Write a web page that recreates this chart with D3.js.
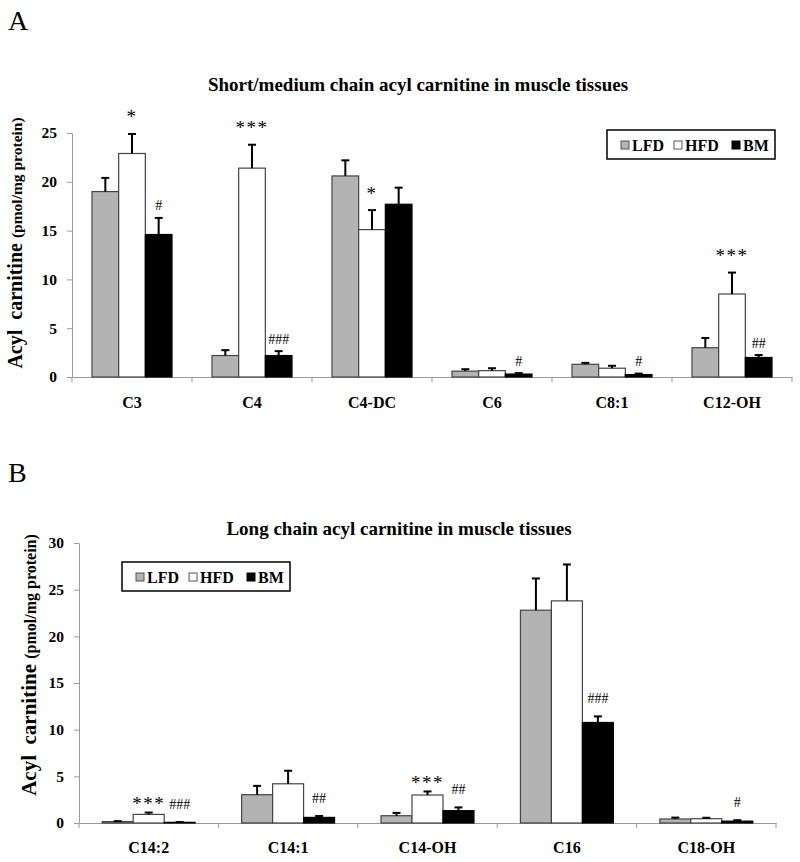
<!DOCTYPE html>
<html><head><meta charset="utf-8">
<script src="https://cdn.jsdelivr.net/npm/d3@7"></script>
<style>body{margin:0;background:#fff}svg{display:block}</style>
</head><body>
<svg id="c" width="800" height="862"></svg>
<script>
// ---------- data ----------
const seriesNames = ["LFD", "HFD", "BM"];

const catsA = ["C3", "C4", "C4-DC", "C6", "C8:1", "C12-OH"];
const lfdA = [19.0, 2.2, 20.6, 0.6, 1.3, 3.0];
const lfdAErr = [1.4, 0.55, 1.6, 0.2, 0.15, 1.0];
const hfdA = [22.9, 21.4, 15.1, 0.65, 0.9, 8.5];
const hfdAErr = [2.0, 2.4, 2.0, 0.25, 0.25, 2.2];
const bmA = [14.6, 2.2, 17.7, 0.3, 0.25, 2.0];
const bmAErr = [1.7, 0.45, 1.7, 0.1, 0.1, 0.25];
const hfdSigA = ["*", "***", "*", "", "", "***"];
const bmSigA = ["#", "###", "", "#", "#", "##"];
const ticksA = [0, 5, 10, 15, 20, 25];

const catsB = ["C14:2", "C14:1", "C14-OH", "C16", "C18-OH"];
const lfdB = [0.15, 3.03, 0.78, 22.8, 0.43];
const lfdBErr = [0.05, 0.95, 0.3, 3.4, 0.15];
const hfdB = [0.92, 4.2, 3.0, 23.8, 0.46];
const hfdBErr = [0.2, 1.4, 0.38, 3.9, 0.1];
const bmB = [0.07, 0.6, 1.32, 10.77, 0.2];
const bmBErr = [0.03, 0.15, 0.35, 0.65, 0.1];
const hfdSigB = ["***", "", "***", "", ""];
const bmSigB = ["###", "##", "##", "###", "#"];
const ticksB = [0, 5, 10, 15, 20, 25, 30];

// ---------- drawing ----------
const FONT = "'Liberation Serif','Times New Roman',Times,serif";
const fills = {LFD: "#b3b3b3", HFD: "#ffffff", BM: "#000000"};
const axisColor = "#9a9a9a";
const svg = d3.select("#c");

function panel(o) {
  const g = svg.append("g");
  const x0 = d3.scaleBand().domain(o.cats).range([o.x0, o.x1]).paddingInner(0).paddingOuter(0);
  const x1 = d3.scaleBand().domain(seriesNames).range([0, x0.bandwidth()]).paddingInner(0).paddingOuter(0.75);
  const y = d3.scaleLinear().domain([0, o.ymax]).range([o.y0, o.y1]);

  // panel letter
  g.append("text").attr("x", 8).attr("y", o.letterY).attr("font-family", FONT)
    .attr("font-size", 28).text(o.letter);
  // title
  g.append("text").attr("x", o.titleX).attr("y", o.titleY).attr("text-anchor", "middle")
    .attr("font-family", FONT).attr("font-weight", "bold").attr("font-size", 19).text(o.title);

  // y axis
  const ya = g.append("g").attr("transform", `translate(${o.x0},0)`)
    .call(d3.axisLeft(y).tickValues(o.ticks).tickSize(5).tickSizeOuter(0).tickPadding(10).tickFormat(d3.format("d")));
  ya.select(".domain").attr("stroke", axisColor);
  ya.selectAll(".tick line").attr("stroke", axisColor);
  ya.selectAll(".tick text").attr("font-family", FONT).attr("font-weight", "bold").attr("font-size", 15.5).attr("fill", "#000");

  // y title
  const yt = g.append("text").attr("transform", `translate(${o.ytX},${o.ytY}) rotate(-90)`)
    .attr("text-anchor", "middle").attr("font-family", FONT).attr("font-weight", "bold");
  yt.append("tspan").attr("font-size", o.ytBig).text("Acyl\u00a0\u00a0carnitine ");
  yt.append("tspan").attr("font-size", o.ytSmall).text("(pmol/mg protein)");

  // x axis
  const xa = g.append("g").attr("transform", `translate(0,${o.y0})`)
    .call(d3.axisBottom(x0).tickSize(0).tickPadding(o.xPad).tickSizeOuter(0));
  xa.select(".domain").attr("stroke", axisColor);
  xa.selectAll(".tick text").attr("font-family", FONT).attr("font-weight", "bold").attr("font-size", 16).attr("fill", "#000");
  const bounds = o.cats.map(c => x0(c)).concat([x0.range()[1]]);
  g.append("g").selectAll("line").data(bounds).join("line")
    .attr("x1", d => d).attr("x2", d => d).attr("y1", o.y0).attr("y2", o.y0 + 5)
    .attr("stroke", axisColor);

  // bars
  const rows = [];
  o.cats.forEach((c, i) => {
    seriesNames.forEach((s, j) => {
      rows.push({cat: c, s, v: o.vals[j][i], e: o.errs[j][i], sig: j === 1 ? o.hfdSig[i] : (j === 2 ? o.bmSig[i] : "")});
    });
  });
  const bx = d => x0(d.cat) + x1(d.s);
  const bw = x1.bandwidth();
  g.append("g").selectAll("rect").data(rows).join("rect")
    .attr("x", bx).attr("width", bw)
    .attr("y", d => y(d.v)).attr("height", d => y(0) - y(d.v))
    .attr("fill", d => fills[d.s]).attr("stroke", d => d.s === "BM" ? "#000" : "#444").attr("stroke-width", 1.2);
  // error bars
  const eg = g.append("g").attr("stroke", "#000").attr("stroke-width", 2);
  eg.selectAll("line.v").data(rows).join("line").attr("class", "v")
    .attr("x1", d => bx(d) + bw / 2).attr("x2", d => bx(d) + bw / 2)
    .attr("y1", d => y(d.v)).attr("y2", d => y(d.v + d.e));
  eg.selectAll("line.c").data(rows).join("line").attr("class", "c")
    .attr("x1", d => bx(d) + bw / 2 - 4).attr("x2", d => bx(d) + bw / 2 + 4)
    .attr("y1", d => y(d.v + d.e)).attr("y2", d => y(d.v + d.e));
  // significance
  g.append("g").selectAll("text").data(rows.filter(d => d.sig)).join("text")
    .attr("x", d => bx(d) + bw / 2)
    .attr("y", d => y(d.v + d.e) - (d.sig[0] === "*" ? o.starOff : o.hashOff))
    .attr("text-anchor", "middle").attr("dominant-baseline", "central")
    .attr("font-family", FONT)
    .attr("font-size", d => d.sig[0] === "*" ? 19 : 14)
    .attr("letter-spacing", d => d.sig[0] === "*" ? 1.5 : 0)
    .text(d => d.sig);

  // legend
  const lg = g.append("g").attr("transform", `translate(${o.legX},${o.legY})`);
  lg.append("rect").attr("x", 0).attr("y", 0).attr("width", 168).attr("height", 29)
    .attr("fill", "#fff").attr("stroke", "#000").attr("stroke-width", 1.5);
  const sqX = [14, 67, 125];
  seriesNames.forEach((s, i) => {
    lg.append("rect").attr("x", sqX[i]).attr("y", 11).attr("width", 8).attr("height", 8)
      .attr("fill", fills[s]).attr("stroke", s === "BM" ? "#000" : "#555");
    lg.append("text").attr("x", sqX[i] + 11).attr("y", 21).attr("font-family", FONT)
      .attr("font-weight", "bold").attr("font-size", 16).text(s);
  });
}

panel({
  letter: "A", letterY: 30, title: "Short/medium chain acyl carnitine in muscle tissues", titleX: 418, titleY: 91,
  cats: catsA, vals: [lfdA, hfdA, bmA], errs: [lfdAErr, hfdAErr, bmAErr], hfdSig: hfdSigA, bmSig: bmSigA,
  ticks: ticksA, ymax: 25, x0: 72, x1: 792, y0: 377, y1: 133, xPad: 20,
  ytX: 22, ytY: 243, ytBig: 20, ytSmall: 15.5, starOff: 17, hashOff: 12,
  legX: 607, legY: 130
});
panel({
  letter: "B", letterY: 482, title: "Long chain acyl carnitine in muscle tissues", titleX: 399, titleY: 535,
  cats: catsB, vals: [lfdB, hfdB, bmB], errs: [lfdBErr, hfdBErr, bmBErr], hfdSig: hfdSigB, bmSig: bmSigB,
  ticks: ticksB, ymax: 30, x0: 79, x1: 776, y0: 823, y1: 543, xPad: 19,
  ytX: 36, ytY: 665, ytBig: 21, ytSmall: 16, starOff: 9, hashOff: 18,
  legX: 122, legY: 562
});
</script>
</body></html>
